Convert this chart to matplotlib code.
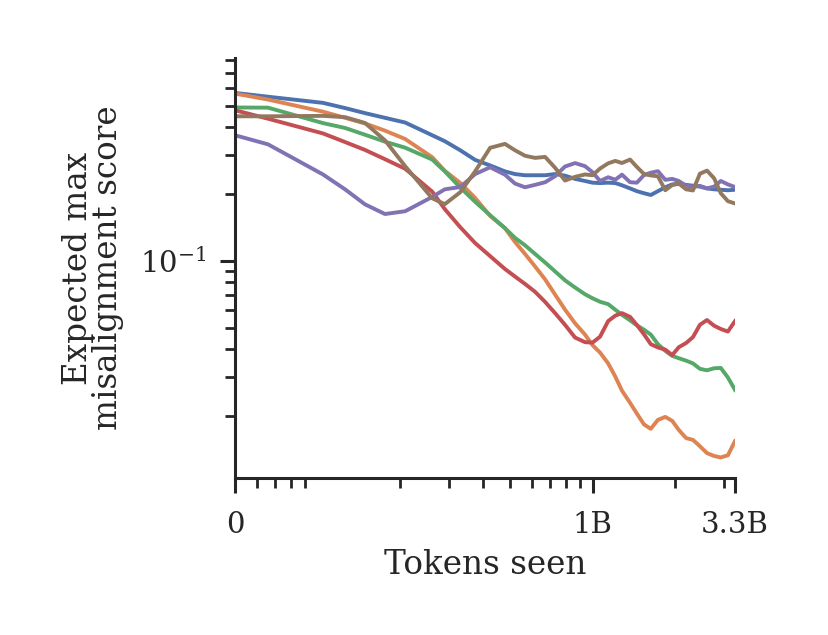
import matplotlib
matplotlib.use("Agg")
import matplotlib.pyplot as plt
from matplotlib.ticker import NullFormatter

plt.rcParams["font.family"] = "DejaVu Serif"
plt.rcParams["mathtext.fontset"] = "dejavuserif"

# tokens seen (left edge of the axis is the first checkpoint, labelled "0")
tokens = [5.0e7, 6.59e7, 1.045e8, 1.257e8, 1.486e8, 1.757e8, 2.08e8, 2.61e8,
          2.90e8, 3.30e8, 3.74e8, 4.24e8, 4.80e8, 5.22e8, 5.68e8, 6.18e8,
          6.72e8, 7.30e8, 7.94e8, 8.64e8, 9.39e8, 1.00e9, 1.065e9, 1.14e9,
          1.21e9, 1.28e9, 1.37e9, 1.45e9, 1.54e9, 1.63e9, 1.73e9, 1.84e9,
          1.95e9, 2.06e9, 2.19e9, 2.32e9, 2.46e9, 2.61e9, 2.77e9, 2.93e9,
          3.11e9, 3.30e9]

blue = [0.571, 0.549, 0.515, 0.488, 0.463, 0.441, 0.420, 0.368, 0.346, 0.315,
        0.285, 0.269, 0.253, 0.246, 0.243, 0.243, 0.243, 0.246, 0.242, 0.234,
        0.229, 0.225, 0.224, 0.225, 0.224, 0.219, 0.212, 0.206, 0.2016, 0.198,
        0.206, 0.2145, 0.221, 0.222, 0.220, 0.218, 0.216, 0.212, 0.210, 0.209,
        0.208, 0.209]
orange = [0.567, 0.533, 0.470, 0.441, 0.416, 0.386, 0.354, 0.293, 0.2545, 0.2245,
          0.192, 0.1594, 0.1404, 0.1217, 0.1074, 0.0943, 0.0825, 0.0706, 0.0603,
          0.0523, 0.0465, 0.0417, 0.0386, 0.0345, 0.0301, 0.0260, 0.0229, 0.0205,
          0.0183, 0.0175, 0.0192, 0.0198, 0.0190, 0.0173, 0.0159, 0.0156, 0.0146,
          0.0136, 0.0132, 0.0130, 0.0133, 0.0154]
green = [0.491, 0.490, 0.4175, 0.397, 0.370, 0.3443, 0.3235, 0.286, 0.253, 0.214,
         0.1845, 0.1605, 0.1404, 0.127, 0.1175, 0.1074, 0.0983, 0.0897, 0.0817,
         0.0758, 0.0707, 0.0678, 0.0654, 0.0638, 0.0602, 0.0571, 0.0539, 0.0512,
         0.0489, 0.0465, 0.0421, 0.0393, 0.0373, 0.0364, 0.0355, 0.0345, 0.0326,
         0.0321, 0.0328, 0.0329, 0.0298, 0.0262]
red = [0.477, 0.437, 0.375, 0.343, 0.316, 0.287, 0.260, 0.205, 0.171, 0.1418,
       0.1202, 0.1050, 0.0919, 0.0850, 0.0787, 0.0725, 0.0653, 0.0582, 0.0515,
       0.0451, 0.0430, 0.0428, 0.0455, 0.0535, 0.0566, 0.0581, 0.0559, 0.0514,
       0.0466, 0.0421, 0.0407, 0.0398, 0.0376, 0.0408, 0.0426, 0.0453, 0.0515,
       0.0541, 0.0510, 0.0493, 0.0480, 0.0535]
purple = [0.368, 0.335, 0.245, 0.210, 0.1797, 0.1625, 0.1673, 0.194, 0.210, 0.215,
          0.246, 0.264, 0.2445, 0.223, 0.2145, 0.220, 0.226, 0.2405, 0.266, 0.2757,
          0.267, 0.2507, 0.229, 0.238, 0.232, 0.2445, 0.226, 0.225, 0.2437, 0.2495,
          0.2535, 0.2317, 0.234, 0.229, 0.218, 0.216, 0.2176, 0.212, 0.216, 0.229,
          0.221, 0.215]
brown = [0.448, 0.448, 0.450, 0.444, 0.418, 0.349, 0.267, 0.1913, 0.180, 0.2037,
         0.253, 0.323, 0.3365, 0.315, 0.2975, 0.291, 0.294, 0.263, 0.230, 0.239,
         0.245, 0.243, 0.2605, 0.275, 0.282, 0.276, 0.286, 0.265, 0.246, 0.2425,
         0.2405, 0.208, 0.2195, 0.223, 0.210, 0.2075, 0.247, 0.255, 0.2355, 0.2016,
         0.1857, 0.1813]

xtick_vals = [5.0e7, 1.0e9, 3.3e9]
xtick_labels = ["0", "1B", "3.3B"]

colors = ["#4C72B0", "#DD8452", "#55A868", "#C44E52", "#8172B3", "#937860"]
ink = "#262626"

fig = plt.figure(figsize=(8.29, 6.35), dpi=100)
ax = fig.add_axes([0.2835, 0.2472, 0.6031, 0.6614])

for ys, c in zip([blue, orange, green, red, purple, brown], colors):
    ax.plot(tokens, ys, color=c, lw=2.8)

ax.set_xscale("log")
ax.set_yscale("log")
ax.set_xlim(5.0e7, 3.3e9)
ax.set_ylim(0.0105, 0.82)
ax.set_xticks(xtick_vals, xtick_labels)
ax.xaxis.set_minor_formatter(NullFormatter())
ax.yaxis.set_minor_formatter(NullFormatter())

for s in ["top", "right"]:
    ax.spines[s].set_visible(False)
for s in ["left", "bottom"]:
    ax.spines[s].set_linewidth(2.2)
    ax.spines[s].set_color(ink)
ax.tick_params(which="major", length=10.8, width=2.2, color=ink,
               labelsize=21, labelcolor=ink)
ax.tick_params(which="minor", length=7.2, width=2.0, color=ink)
ax.tick_params(axis="x", which="major", pad=13)
ax.tick_params(axis="y", which="major", pad=9.5)

ax.set_xlabel("Tokens seen", fontsize=23.5, color=ink, labelpad=7)
ax.set_ylabel("Expected max\nmisalignment score", fontsize=23.5, color=ink,
              linespacing=0.92, labelpad=12)

fig.savefig("out.png", dpi=100)
